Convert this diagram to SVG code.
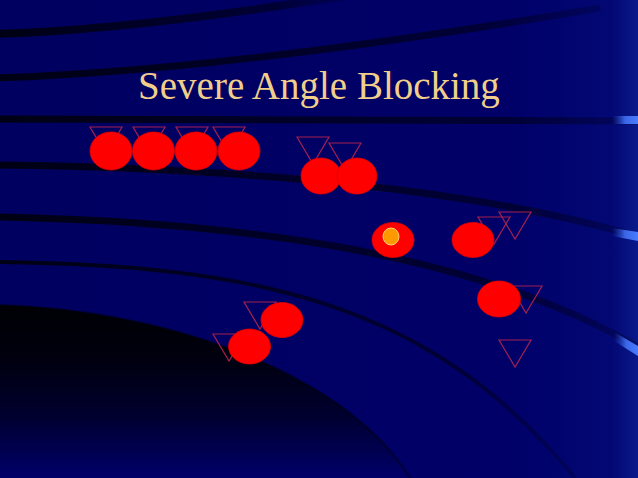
<svg xmlns="http://www.w3.org/2000/svg" xmlns:xlink="http://www.w3.org/1999/xlink" width="638" height="478" viewBox="0 0 638 478">
<defs>
<linearGradient id="bg" x1="0" y1="0" x2="1" y2="0">
<stop offset="0" stop-color="#000060"/>
<stop offset="0.8" stop-color="#000068"/>
<stop offset="0.96" stop-color="#030874"/>
<stop offset="1" stop-color="#0a1a8a"/>
</linearGradient>
<linearGradient id="dark" gradientUnits="userSpaceOnUse" x1="0" y1="305" x2="0" y2="478">
<stop offset="0" stop-color="#000005"/>
<stop offset="0.3" stop-color="#00000e"/>
<stop offset="0.65" stop-color="#000030"/>
<stop offset="1" stop-color="#00006a"/>
</linearGradient>
<linearGradient id="fadeR" x1="0" y1="0" x2="1" y2="0">
<stop offset="0" stop-color="#000010" stop-opacity="0.95"/>
<stop offset="0.8" stop-color="#000020" stop-opacity="0.7"/>
<stop offset="1" stop-color="#000030" stop-opacity="0.3"/>
</linearGradient>
<linearGradient id="hl" x1="0" y1="0" x2="1" y2="0">
<stop offset="0" stop-color="#2040c0" stop-opacity="0"/>
<stop offset="0.5" stop-color="#3a66e6"/>
<stop offset="1" stop-color="#4a7cff"/>
</linearGradient>
<path id="tri" d="M-16,0 L16,0 L0,27 Z"/>
<style>
.band{fill:none;stroke:url(#fadeR);stroke-linecap:butt}
.t{fill:none;stroke:#a3204f;stroke-width:1.2}
.p{fill:#ff0000;stroke:#e00000;stroke-width:0.8}
.title{font-family:"Liberation Serif","Times New Roman",serif;font-size:39px;fill:#f1cf8a}
</style>
</defs>

<g id="background">
<rect x="0" y="0" width="638" height="478" fill="url(#bg)"/>
<path class="band" d="M-5,34 C100,31 230,14 345,-4" stroke-width="8"/>
<path class="band" d="M-5,78 C150,73 350,50 600,8" stroke-width="7"/>
<path class="band" d="M-5,119 C200,119 420,120 640,121" stroke-width="7"/>
<path class="band" d="M-5,165 C250,168 480,190 640,237" stroke-width="7"/>
<path class="band" d="M-5,217 C250,222 480,255 640,348" stroke-width="7"/>
<path class="band" d="M-5,262 C250,265 430,300 575,478" stroke-width="4"/>
<path d="M0,305 C150,309 340,365 410,478 L0,478 Z" fill="url(#dark)"/>
<path d="M0,305 C150,309 340,365 410,478" fill="none" stroke="#000010" stroke-opacity="0.5" stroke-width="2"/>
<rect x="612" y="116" width="26" height="8" fill="url(#hl)"/>
<polygon points="612,228 638,232 638,241 612,236" fill="url(#hl)"/>
<polygon points="614,332 638,346 638,356 614,341" fill="url(#hl)"/>
</g>

<g id="title">
<text class="title" x="319" y="99" text-anchor="middle">Severe Angle Blocking</text>
</g>

<g id="defense">
<use xlink:href="#tri" class="t" x="106" y="127"/>
<use xlink:href="#tri" class="t" x="149" y="127"/>
<use xlink:href="#tri" class="t" x="192" y="127"/>
<use xlink:href="#tri" class="t" x="229" y="127"/>
<use xlink:href="#tri" class="t" x="313" y="137"/>
<use xlink:href="#tri" class="t" x="345" y="143"/>
<use xlink:href="#tri" class="t" x="494" y="217"/>
<use xlink:href="#tri" class="t" x="515" y="212"/>
<use xlink:href="#tri" class="t" x="526" y="286"/>
<use xlink:href="#tri" class="t" x="515" y="340"/>
<use xlink:href="#tri" class="t" x="260" y="302"/>
<use xlink:href="#tri" class="t" x="229" y="334"/>
</g>

<g id="offense">
<ellipse id="o1" class="p" cx="111" cy="151" rx="21" ry="19"/>
<ellipse id="o2" class="p" cx="153.5" cy="151" rx="21" ry="19"/>
<ellipse id="o3" class="p" cx="196" cy="151" rx="21" ry="19"/>
<ellipse id="o4" class="p" cx="239" cy="151" rx="21" ry="19"/>
<ellipse id="o5" class="p" cx="321" cy="176" rx="20" ry="18"/>
<ellipse id="o6" class="p" cx="357" cy="176" rx="20" ry="18"/>
<g id="qb">
<ellipse class="p" cx="393" cy="240" rx="21" ry="17.5"/>
<ellipse cx="391" cy="236.5" rx="8" ry="8.5" fill="#ff9900" stroke="#ffd27a" stroke-width="1"/>
</g>
<ellipse id="o7" class="p" cx="473" cy="240" rx="21" ry="17.5"/>
<ellipse id="o8" class="p" cx="499" cy="299" rx="21.5" ry="18"/>
<ellipse id="o9" class="p" cx="282" cy="320" rx="21" ry="17.5"/>
<ellipse id="o10" class="p" cx="249.5" cy="346.5" rx="21" ry="17.5"/>
</g>
</svg>
